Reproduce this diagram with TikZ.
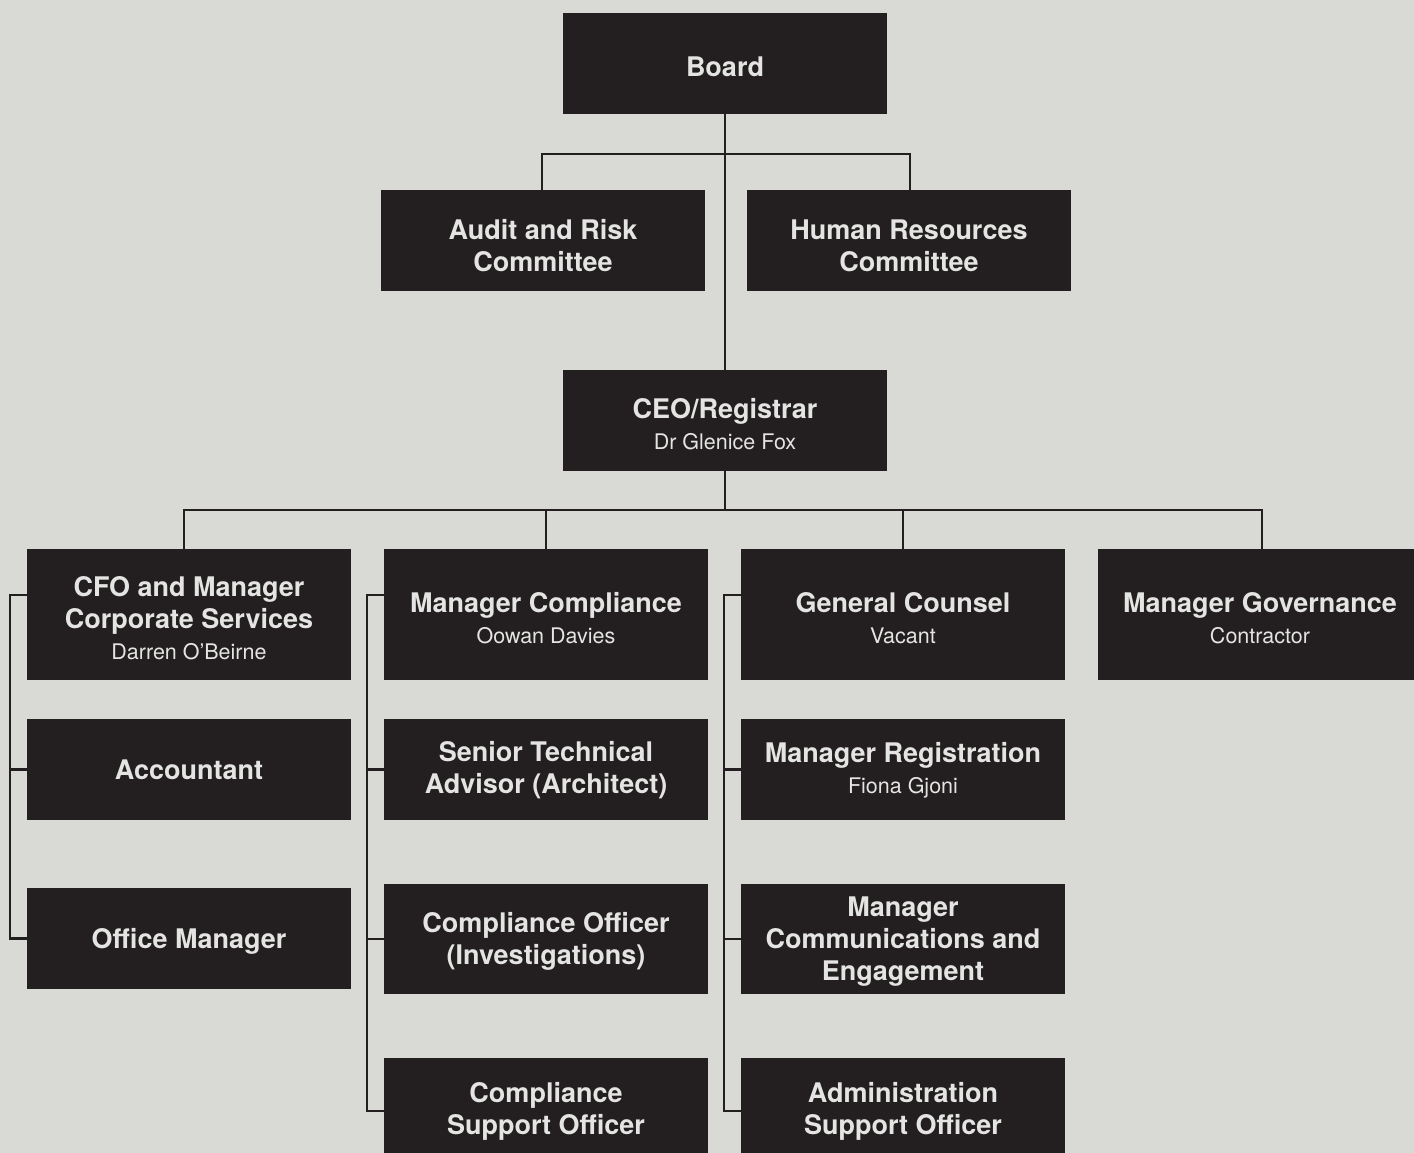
\documentclass[tikz,border=0pt]{standalone}
\usepackage{fontspec}
\setmainfont{TeX Gyre Heros}
\definecolor{bg}{HTML}{D9D9D6}
\definecolor{boxc}{HTML}{231F20}
\definecolor{txt}{HTML}{E4E4E2}
\begin{document}
\begin{tikzpicture}[x=1pt,y=-1pt,
  unit/.style={fill=boxc, draw=none, minimum width=324pt, minimum height=101pt,
    inner sep=0pt, align=center, text=txt, font=\fontsize{27}{32}\selectfont\bfseries},
  tall/.style={minimum height=131pt},
  mid/.style={minimum height=110pt},
  conn/.style={draw=boxc, line width=2.5pt},
]
\fill[bg] (0,0) rectangle (1414,1153);
\clip (0,0) rectangle (1414,1153);
\newcommand{\subl}[1]{\\[-1pt]{\fontsize{21.5}{32}\selectfont\mdseries #1}}
\newcommand{\st}[1][26.5pt]{\rule{0pt}{#1}}
% nodes
\node[unit] (board) at (725,63.5) {\st Board};
\node[unit] (audit) at (543,240.5) {\st[30.5pt]Audit and Risk\\Committee};
\node[unit] (hr) at (909,240.5) {\st[30.5pt]Human Resources\\Committee};
\node[unit] (ceo) at (725,420.5) {\st CEO/Registrar\subl{Dr Glenice Fox}};
\node[unit,tall] (cfo) at (189,614.5) {\st CFO and Manager\\Corporate Services\subl{Darren O’Beirne}};
\node[unit,tall] (mc) at (546,614.5) {\st Manager Compliance\subl{Oowan Davies}};
\node[unit,tall] (gc) at (903,614.5) {\st General Counsel\subl{Vacant}};
\node[unit,tall] (mg) at (1260,614.5) {\st Manager Governance\subl{Contractor}};
\node[unit] (acc) at (189,769.5) {\st[20.5pt]Accountant};
\node[unit] (sta) at (546,769.5) {\st[21pt]Senior Technical\\Advisor (Architect)};
\node[unit] (mr) at (903,769.5) {\st[21pt]Manager Registration\subl{Fiona Gjoni}};
\node[unit] (om) at (189,938.5) {\st Office Manager};
\node[unit,mid] (co) at (546,939) {\st[24.5pt]Compliance Officer\\(Investigations)};
\node[unit,mid] (mce) at (903,939) {\st[24.5pt]Manager\\Communications and\\Engagement};
\node[unit,minimum height=106pt] (cso) at (546,1111) {\st[21pt]Compliance\\Support Officer};
\node[unit,minimum height=106pt] (aso) at (903,1111) {\st[21pt]Administration\\Support Officer};
% coordinates
\coordinate (j1) at (725,154);
\coordinate (j2) at (725,510);
% connectors
\draw[conn] (board.south) -- (ceo.north);
\draw[conn] ([xshift=-1pt]audit.north) |- (j1) -| ([xshift=1pt]hr.north);
\draw[conn] ([xshift=-5pt]cfo.north) |- (j2) -| ([xshift=2pt]mg.north);
\draw[conn] (ceo.south) -- (j2);
\draw[conn] (mc.north) -- (mc.north |- j2);
\draw[conn] (gc.north) -- (gc.north |- j2);
\draw[conn] ([yshift=19.5pt]cfo.west) -- ++(-17,0) |- (om.west);
\draw[conn] (acc.west) -- ++(-17,0);
\draw[conn] ([yshift=19.5pt]mc.west) -- ++(-17,0) |- (cso.west);
\draw[conn] (sta.west) -- ++(-17,0);
\draw[conn] (co.west) -- ++(-17,0);
\draw[conn] ([yshift=19.5pt]gc.west) -- ++(-17,0) |- (aso.west);
\draw[conn] (mr.west) -- ++(-17,0);
\draw[conn] (mce.west) -- ++(-17,0);
\end{tikzpicture}
\end{document}
